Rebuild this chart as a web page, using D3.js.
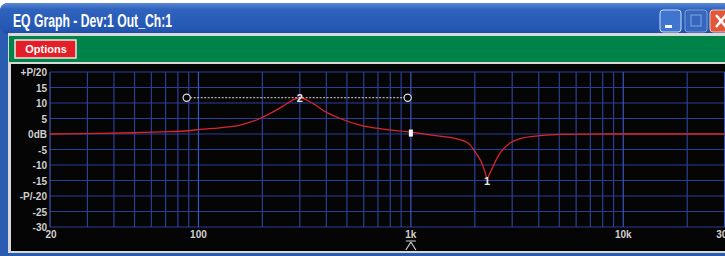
<!DOCTYPE html>
<html>
<head>
<meta charset="utf-8">
<script src="https://cdn.jsdelivr.net/npm/d3@7"></script>
<style>
  body { margin: 0; background: #fff; }
  text { font-family: "Liberation Sans", Arial, sans-serif; }
</style>
</head>
<body>
<div id="root"></div>
<script>
const width = 725
const height = 256

// response curve (Hz, dB)
const freqs = [20, 34, 49, 72, 89, 102, 126, 157, 175, 195, 217, 250, 279, 300, 335, 403, 464, 576, 739, 959,
  1230, 1704, 1899, 1982, 2094, 2162, 2234, 2282, 2358, 2436, 2628, 2929, 3266, 4055, 5036, 9140, 30000]
const gains = [0, 0.2, 0.4, 0.75, 1.05, 1.5, 2.0, 2.9, 3.8, 5.0, 6.6, 9.0, 11.0, 11.7, 10.4, 6.9, 5.0, 2.9, 1.6, 0.75,
  -0.3, -1.8, -3.5, -5.2, -7.7, -9.5, -12.3, -14.3, -12.6, -10.5, -6.2, -2.9, -1.5, -0.55, -0.1, 0, 0]

// y ticks
const yTicks = [20, 15, 10, 5, 0, -5, -10, -15, -20, -25, -30]
const yLabels = ['+P/20', '15', '10', '5', '0dB', '-5', '-10', '-15', '-P/-20', '-25', '-30']

// x ticks
const xTicks = [20, 100, 1000, 10000, 30000]
const xLabels = ['20', '100', '1k', '10k', '30k']
const xGrid = [20, 30, 40, 50, 60, 70, 80, 90, 100, 200, 300, 400, 500, 600, 700, 800, 900,
  1000, 2000, 3000, 4000, 5000, 6000, 7000, 8000, 9000, 10000, 20000, 30000]

// band markers
const bandNames = ['1', '2']
const bandFreqs = [2282, 300]
const bandGains = [-15, 11.7]
const widthFreqs = [88, 966]   // band 2 width handles
const handleFreq = 1000
const handleGain = 0.3

const svg = d3.select('#root').append('svg')
  .attr('width', width)
  .attr('height', height)

// ---- window frame ----
const defs = svg.append('defs')
const tg = defs.append('linearGradient').attr('id', 'title').attr('x1', 0).attr('x2', 0).attr('y1', 0).attr('y2', 1)
tg.append('stop').attr('offset', '0%').attr('stop-color', '#5a8ad8')
tg.append('stop').attr('offset', '20%').attr('stop-color', '#2f63bd')
tg.append('stop').attr('offset', '85%').attr('stop-color', '#2457b3')
tg.append('stop').attr('offset', '100%').attr('stop-color', '#1d4c9e')

svg.append('rect')
  .attr('x', 0).attr('y', 3).attr('width', width + 20).attr('height', height + 10)
  .attr('rx', 8)
  .attr('fill', '#2a5cb2')
svg.append('rect')
  .attr('x', 0).attr('y', 3).attr('width', width + 20).attr('height', 31)
  .attr('rx', 8)
  .attr('fill', 'url(#title)')

svg.append('text')
  .attr('x', 13).attr('y', 27)
  .attr('fill', '#fff')
  .attr('font-size', 19)
  .attr('font-weight', 'bold')
  .attr('textLength', 159)
  .attr('lengthAdjust', 'spacingAndGlyphs')
  .text('EQ Graph - Dev:1 Out_Ch:1')

// title buttons
svg.append('rect').attr('x', 660).attr('y', 10).attr('width', 21).attr('height', 22).attr('rx', 3)
  .attr('fill', '#3f74cf').attr('stroke', '#cfdcf2').attr('stroke-width', 1)
svg.append('rect').attr('x', 665).attr('y', 25).attr('width', 7).attr('height', 3).attr('fill', '#fff')
svg.append('rect').attr('x', 685).attr('y', 10).attr('width', 22).attr('height', 22).attr('rx', 3)
  .attr('fill', '#3567bf').attr('stroke', '#7f9fd8').attr('stroke-width', 1)
svg.append('rect').attr('x', 691).attr('y', 15).attr('width', 10).attr('height', 11)
  .attr('fill', 'none').attr('stroke', '#8aa6da').attr('stroke-width', 1)
svg.append('rect').attr('x', 710).attr('y', 10).attr('width', 24).attr('height', 22).attr('rx', 3)
  .attr('fill', '#e2573a').attr('stroke', '#f0c8b8').attr('stroke-width', 1)
svg.append('path').attr('d', 'M716,15 L726,27 M726,15 L716,27')
  .attr('stroke', '#fff').attr('stroke-width', 2.5)

// client area
svg.append('rect').attr('x', 8).attr('y', 33).attr('width', width).attr('height', 220).attr('fill', '#d8d8d8')
svg.append('rect').attr('x', 9).attr('y', 36).attr('width', width).attr('height', 26).attr('fill', '#008348')
svg.append('rect').attr('x', 15).attr('y', 40).attr('width', 61).attr('height', 18)
  .attr('fill', '#e41e26').attr('stroke', '#e8e8e8').attr('stroke-width', 1.5)
svg.append('text')
  .attr('x', 46).attr('y', 53)
  .attr('text-anchor', 'middle')
  .attr('fill', '#fff').attr('font-size', 11).attr('font-weight', 'bold')
  .text('Options')

svg.append('rect').attr('x', 11).attr('y', 64).attr('width', width).attr('height', 187).attr('fill', '#050505')

// ---- chart ----
const x = d3.scaleLog().domain([20, 30000]).range([50, 724.6])
const y = d3.scaleLinear().domain([-30, 20]).range([227, 72])

const grid = svg.append('g')
grid.selectAll('line.h')
  .data(yTicks)
  .enter().append('line')
  .attr('x1', x(20)).attr('x2', x(30000))
  .attr('y1', d => y(d)).attr('y2', d => y(d))
  .attr('stroke', '#2c3f96').attr('stroke-width', 1.2)
grid.selectAll('line.v')
  .data(xGrid)
  .enter().append('line')
  .attr('x1', d => x(d)).attr('x2', d => x(d))
  .attr('y1', y(20)).attr('y2', y(-30))
  .attr('stroke', d => xTicks.includes(d) ? '#3a56c0' : '#2c3f96')
  .attr('stroke-width', 1.2)

// y labels
svg.selectAll('text.yl')
  .data(yTicks)
  .enter().append('text')
  .attr('x', 47).attr('y', d => y(d) + 4)
  .attr('text-anchor', 'end')
  .attr('fill', '#d0d0d0').attr('font-size', 10).attr('font-weight', 'bold')
  .text((d, i) => yLabels[i])

// x labels
svg.selectAll('text.xl')
  .data(xTicks)
  .enter().append('text')
  .attr('x', d => x(d) + (d === 20 ? 1 : 0)).attr('y', 238)
  .attr('text-anchor', 'middle')
  .attr('fill', '#d0d0d0').attr('font-size', 10).attr('font-weight', 'bold')
  .text((d, i) => xLabels[i])

// crossover marker under 1k
svg.append('path')
  .attr('d', `M${x(1000) - 5},241 H${x(1000) + 5} M${x(1000)},242 L${x(1000) - 5},250 M${x(1000)},242 L${x(1000) + 5},250`)
  .attr('stroke', '#cfcfcf').attr('stroke-width', 1.2).attr('fill', 'none')

// response curve
const pts = freqs.map((f, i) => [f, gains[i]])
const line = d3.line()
  .x(d => x(d[0]))
  .y(d => y(d[1]))
  .curve(d3.curveMonotoneX)
svg.append('path')
  .datum(pts)
  .attr('d', line)
  .attr('fill', 'none')
  .attr('stroke', '#d8262c')
  .attr('stroke-width', 1.3)

// band 2 width handles
svg.append('line')
  .attr('x1', x(widthFreqs[0])).attr('x2', x(widthFreqs[1]))
  .attr('y1', y(bandGains[1])).attr('y2', y(bandGains[1]))
  .attr('stroke', '#d8d8d8').attr('stroke-dasharray', '2,1.5').attr('stroke-width', 1)
svg.selectAll('circle.w')
  .data(widthFreqs)
  .enter().append('circle')
  .attr('cx', d => x(d)).attr('cy', y(bandGains[1]))
  .attr('r', 3.6)
  .attr('fill', '#050505').attr('stroke', '#e0e0e0').attr('stroke-width', 1.2)

// band labels
svg.selectAll('text.band')
  .data(bandFreqs)
  .enter().append('text')
  .attr('x', d => x(d)).attr('y', (d, i) => y(bandGains[i]) + 4)
  .attr('text-anchor', 'middle')
  .attr('fill', '#e8e8e8').attr('font-size', 11).attr('font-weight', 'bold')
  .text((d, i) => bandNames[i])

// point handle at 1k
svg.append('rect')
  .attr('x', x(handleFreq) - 2).attr('y', y(handleGain) - 3.5)
  .attr('width', 4).attr('height', 7)
  .attr('fill', '#fff')
</script>
</body>
</html>
